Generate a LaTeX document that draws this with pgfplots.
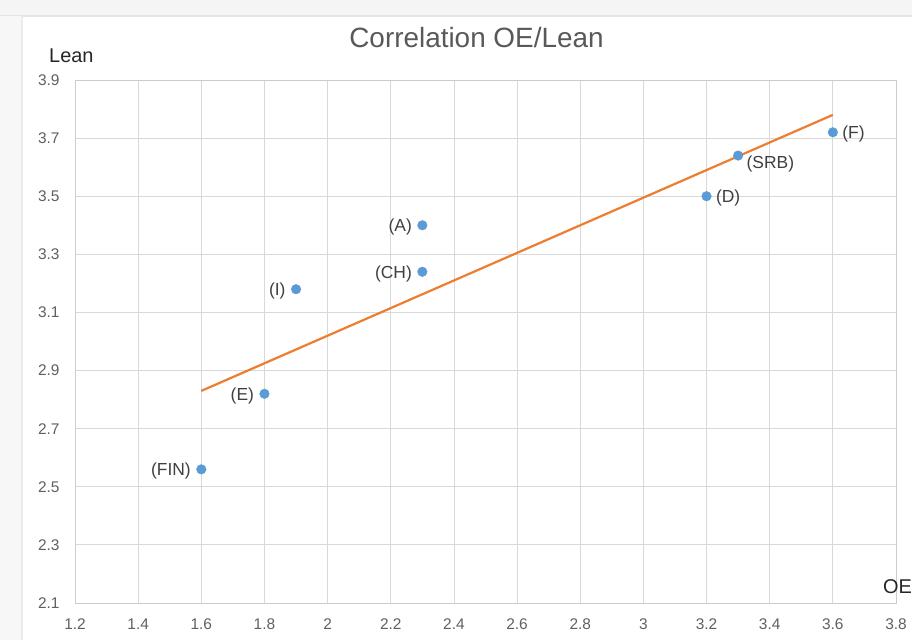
\documentclass[border=0pt]{standalone}
\usepackage{pgfplots}
\pgfplotsset{compat=1.18}
\usepackage{fontspec}
\setmainfont{Liberation Sans}
\definecolor{dotblue}{HTML}{5B9BD5}
\definecolor{trendorange}{HTML}{ED7D31}
\definecolor{gridgray}{HTML}{D9D9D9}
\definecolor{tickgray}{HTML}{606060}
\definecolor{labelgray}{HTML}{404040}
\definecolor{titlegray}{HTML}{595959}
\begin{document}
\begin{tikzpicture}
\path[use as bounding box, fill=white] (0bp,0bp) rectangle (912bp,640bp);
% screenshot frame
\fill[black!4] (0bp,624bp) rectangle (912bp,640bp);
\draw[black!10, line width=1.5bp] (0bp,624bp) -- (912bp,624bp);
\fill[black!3] (0bp,0bp) rectangle (22bp,624bp);
\draw[black!8, line width=1.2bp] (22bp,0bp) -- (22bp,624bp);
\begin{axis}[
  at={(75bp,37bp)}, anchor=south west,
  scale only axis, width=821bp, height=523bp,
  xmin=1.2, xmax=3.8, ymin=2.1, ymax=3.9,
  xtick={1.2,1.4,1.6,1.8,2,2.2,2.4,2.6,2.8,3,3.2,3.4,3.6,3.8},
  xticklabels={1.2,1.4,1.6,1.8,2,2.2,2.4,2.6,2.8,3,3.2,3.4,3.6,3.8},
  ytick={2.1,2.3,2.5,2.7,2.9,3.1,3.3,3.5,3.7,3.9},
  yticklabels={2.1,2.3,2.5,2.7,2.9,3.1,3.3,3.5,3.7,3.9},
  major tick length=0pt,
  grid=major,
  grid style={gridgray, line width=0.8bp},
  axis line style={black!20, line width=0.9bp},
  tick label style={font=\fontsize{15.5}{18}\selectfont, text=tickgray},
  xticklabel style={yshift=-12bp},
  yticklabel style={xshift=-12bp},
  clip=false,
]
\addplot[trendorange, line width=2.2bp] coordinates {(1.6,2.83) (3.6,3.78)};
\addplot[only marks, mark=*, mark size=4.8bp, color=dotblue,
  point meta=explicit symbolic, nodes near coords,
  nodes near coords style={anchor=east, xshift=-7bp, yshift=-2bp, font=\fontsize{17.5}{20}\selectfont, text=labelgray}]
  table[meta=label] {
x y label
1.6 2.56 (FIN)
1.8 2.82 (E)
1.9 3.18 (I)
2.3 3.24 (CH)
2.3 3.40 (A)
};
\addplot[only marks, mark=*, mark size=4.8bp, color=dotblue,
  point meta=explicit symbolic, nodes near coords,
  nodes near coords style={anchor=west, xshift=6bp, yshift=-2bp, font=\fontsize{17.5}{20}\selectfont, text=labelgray}]
  table[meta=label] {
x y label
3.2 3.50 (D)
3.6 3.72 (F)
};
\addplot[only marks, mark=*, mark size=4.8bp, color=dotblue,
  point meta=explicit symbolic, nodes near coords,
  nodes near coords style={anchor=west, xshift=5bp, yshift=-8bp, font=\fontsize{17.5}{20}\selectfont, text=labelgray}]
  table[meta=label] {
x y label
3.3 3.64 (SRB)
};
\end{axis}
\node[anchor=base, font=\fontsize{28}{32}\selectfont, text=titlegray, inner sep=0pt] at (476.5bp,592bp) {Correlation OE/Lean};
\node[anchor=base west, font=\fontsize{20}{24}\selectfont, text=black!85, inner sep=0pt] at (49bp,577bp) {Lean};
\node[anchor=base west, font=\fontsize{20}{24}\selectfont, text=black!85, inner sep=0pt] at (883bp,46bp) {OE};
\end{tikzpicture}
\end{document}
